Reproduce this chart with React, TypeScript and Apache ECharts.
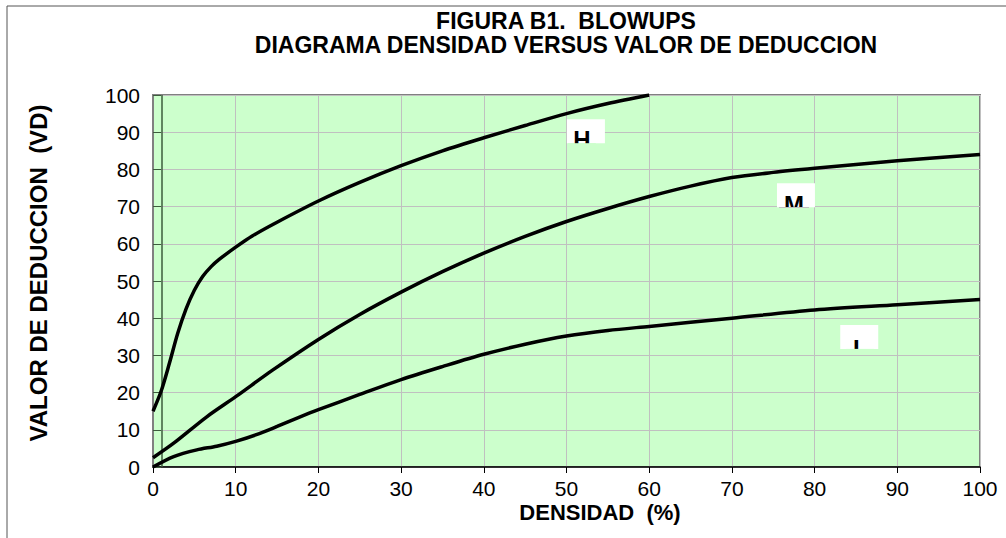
import React, { useEffect, useRef } from 'react';
import * as echarts from 'echarts';

const FONT = "'Liberation Sans', Arial, Helvetica, sans-serif";

// Curve H (high severity)
const hX = [0, 1, 2, 3, 4, 5, 6, 7, 8, 10, 12, 15, 20, 25, 30, 35, 40, 45, 50, 55, 60];
const hY = [15, 20.5, 28, 36, 42.5, 47.5, 51.2, 53.8, 55.8, 59.1, 62.1, 65.8, 71.5, 76.5, 81, 85, 88.5, 91.8, 95, 97.7, 100];

// Curve M (medium severity)
const mX = [0, 2.5, 6.5, 10, 14.5, 20, 25, 30, 35, 40, 45, 50, 55, 60, 65, 70, 75, 80, 90, 100];
const mY = [2.5, 6.4, 13.5, 18.9, 26.1, 34.3, 41, 47, 52.5, 57.5, 62, 66, 69.5, 72.7, 75.5, 77.8, 79.2, 80.3, 82.3, 84];

// Curve L (low severity)
const lX = [0, 2.5, 5.3, 7.7, 10, 12.5, 15, 17.5, 20, 25, 30, 35, 40, 45, 50, 55, 60, 70, 80, 90, 100];
const lY = [0, 2.8, 4.6, 5.6, 6.9, 8.7, 10.9, 13.2, 15.4, 19.5, 23.5, 27, 30.3, 33, 35.2, 36.7, 37.8, 40, 42.2, 43.6, 45];

// Curve labels and the top-left corner of their boxes (data coordinates)
const curveLabels = ['H', 'M', 'L'];
const labelBoxX = [50.05, 75.45, 83.1];
const labelBoxY = [93.5, 76.3, 38.2];
// grid value just below each label box (to redraw the grid line over the clipping patch)
const labelGridBelow = [80, 70, 30];

const titleLines = ['FIGURA B1.  BLOWUPS', 'DIAGRAMA DENSIDAD VERSUS VALOR DE DEDUCCION'];
const xAxisName = 'DENSIDAD  (%)';
const yAxisName = 'VALOR DE DEDUCCION  (VD)';
const yAxisCrossX = 1;

const zip = (xs: number[], ys: number[]) => xs.map((x, i) => [x, ys[i]]);

export default function App() {
  const ref = useRef<HTMLDivElement>(null);
  useEffect(() => {
    document.body.style.margin = '0';
    const chart = echarts.init(ref.current!, null, { renderer: 'svg' });
    const lineSeries = (name: string, data: number[][], extra: any = {}) => ({
      name,
      type: 'line',
      data,
      smooth: 0.3,
      showSymbol: false,
      symbol: 'none',
      lineStyle: { color: '#000', width: 3.5 },
      z: 5,
      ...extra,
    });
    chart.setOption({
      animation: false,
      backgroundColor: '#ffffff',
      textStyle: { fontFamily: FONT },
      grid: {
        left: 153,
        top: 95,
        width: 827,
        height: 372,
        show: true,
        backgroundColor: '#ccffcc',
        borderColor: '#808080',
        borderWidth: 2,
      },
      xAxis: {
        type: 'value',
        min: 0,
        max: 100,
        interval: 10,
        axisLine: { show: true, onZero: false, lineStyle: { color: '#000', width: 1.5 } },
        axisTick: { show: true, length: 6, lineStyle: { color: '#000', width: 1 } },
        axisLabel: { color: '#000', fontSize: 21, margin: 11, fontFamily: FONT },
        splitLine: { show: true, lineStyle: { color: '#c0c0c0', width: 1 } },
      },
      yAxis: {
        type: 'value',
        min: 0,
        max: 100,
        interval: 10,
        axisLine: { show: true, onZero: false, lineStyle: { color: '#808080', width: 2 } },
        axisTick: { show: true, inside: true, length: 8, lineStyle: { color: '#3d5c3d', width: 1 } },
        axisLabel: { color: '#000', fontSize: 21, margin: 13, fontFamily: FONT },
        splitLine: { show: true, lineStyle: { color: '#c0c0c0', width: 1 } },
      },
      series: [
        lineSeries('H', zip(hX, hY)),
        lineSeries('M', zip(mX, mY)),
        lineSeries('L', zip(lX, lY), {
          markLine: {
            silent: true,
            symbol: 'none',
            label: { show: false },
            lineStyle: { color: '#3d5c3d', width: 1.5, type: 'solid' },
            data: [{ xAxis: yAxisCrossX }],
            z: 3,
          },
        }),
      ],
    });

    const graphics: any[] = [
      { type: 'line', shape: { x1: 7, y1: 538, x2: 7, y2: 6 }, style: { stroke: '#555', lineWidth: 1 }, z: 10 },
      { type: 'line', shape: { x1: 7, y1: 6, x2: 1006, y2: 6 }, style: { stroke: '#555', lineWidth: 1 }, z: 10 },
      {
        type: 'text',
        x: 566,
        y: 9,
        z: 10,
        style: {
          text: titleLines.join('\n'),
          align: 'center',
          verticalAlign: 'top',
          fontFamily: FONT,
          fontWeight: 'bold',
          fontSize: 23,
          lineHeight: 24,
          fill: '#000',
        },
      },
      {
        type: 'text',
        x: 38,
        y: 273,
        rotation: Math.PI / 2,
        z: 10,
        style: { text: yAxisName, align: 'center', verticalAlign: 'middle', fontFamily: FONT, fontWeight: 'bold', fontSize: 24, fill: '#000' },
      },
      {
        type: 'text',
        x: 600,
        y: 512,
        z: 10,
        style: { text: xAxisName, align: 'center', verticalAlign: 'middle', fontFamily: FONT, fontWeight: 'bold', fontSize: 22, fill: '#000' },
      },
    ];
    const capOffsets = [11, 12, 15];
    const textDx = [15, 17, 20];
    curveLabels.forEach((lab, i) => {
      const [px, py] = chart.convertToPixel({ gridIndex: 0 }, [labelBoxX[i], labelBoxY[i]]) as number[];
      const gy = (chart.convertToPixel({ gridIndex: 0 }, [0, labelGridBelow[i]]) as number[])[1];
      const bw = 38;
      const bh = 24;
      const fs = 24;
      const cx = px + textDx[i];
      const capTop = py + capOffsets[i];
      graphics.push({ type: 'rect', shape: { x: px, y: py, width: bw, height: bh }, style: { fill: '#ffffff' }, z: 20 });
      graphics.push({
        type: 'text',
        x: cx,
        y: capTop + 0.37 * fs,
        z: 21,
        style: { text: lab, align: 'center', verticalAlign: 'middle', fontFamily: FONT, fontWeight: 'bold', fontSize: fs, fill: '#000' },
      });
      graphics.push({
        type: 'rect',
        shape: { x: cx - 14, y: py + bh, width: 28, height: 14 },
        style: { fill: '#ccffcc' },
        z: 22,
      });
      graphics.push({
        type: 'line',
        shape: { x1: cx - 15, y1: Math.round(gy) + 0.5, x2: cx + 15, y2: Math.round(gy) + 0.5 },
        style: { stroke: '#c0c0c0', lineWidth: 1 },
        z: 23,
      });
    });
    chart.setOption({ graphic: graphics });
    return () => chart.dispose();
  }, []);
  return <div ref={ref} style={{ width: 1006, height: 538 }} />;
}
